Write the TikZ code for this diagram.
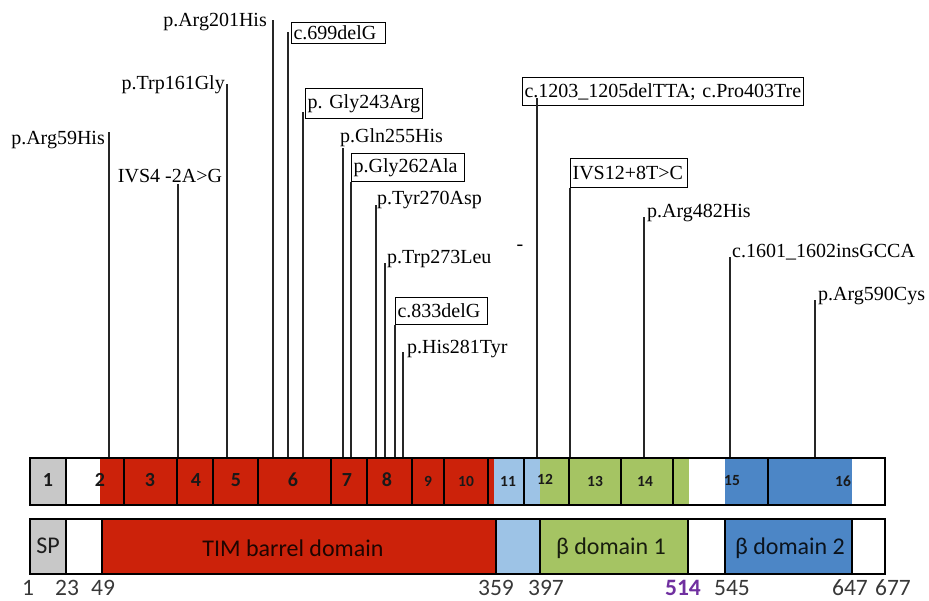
\documentclass[tikz,border=0pt]{standalone}
\usepackage{fontspec}
\setmainfont{Liberation Serif}
\newfontfamily\carlito{Carlito}
\definecolor{spgray}{HTML}{C8C8C8}
\definecolor{timred}{HTML}{CC220A}
\definecolor{linkblue}{HTML}{9DC3E6}
\definecolor{betagreen}{HTML}{A5C463}
\definecolor{betablue}{HTML}{4C86C6}
\definecolor{posgray}{HTML}{383838}
\definecolor{purple514}{HTML}{7030A0}
\begin{document}
\begin{tikzpicture}[x=1pt,y=-1pt,
  mut/.style={font=\fontsize{20}{23}\selectfont\frenchspacing, inner sep=0pt},
  tag/.style={mut, draw=black, line width=1.2pt, anchor=north west,
    inner xsep=2pt, inner ysep=0pt, align=left},
  stem/.style={line width=1.2pt, black!85},
  exnum/.style={font=\carlito\bfseries\fontsize{20}{22}\selectfont, inner sep=0pt, text=black!90},
  exnumsm/.style={font=\carlito\bfseries\fontsize{15.5}{18}\selectfont, inner sep=0pt, text=black!90},
  divider/.style={line width=2.6pt},
  frame/.style={draw=black, line width=2.4pt, anchor=north west, inner sep=0pt},
  domtxt/.style={font=\carlito\fontsize{24}{28}\selectfont, text opacity=0.85, inner sep=0pt},
  resnum/.style={font=\carlito\fontsize{23.5}{27}\selectfont, text=posgray, inner sep=0pt}
]
\useasboundingbox (0,0) rectangle (929,600);

% ---------- exon bar ----------
\fill[spgray]    (29,457)  rectangle (66,504);
\fill[timred]    (100,457) rectangle (494,504);
\fill[linkblue]  (494,457) rectangle (540,504);
\fill[betagreen] (540,457) rectangle (689,504);
\fill[betablue]  (725,457) rectangle (852,504);
\foreach \x in {66,124,177,213,258,331,367,412,444,488,524,569,621,673,768}
  \draw[divider] (\x,457) -- (\x,504);
\node[frame, minimum width=855pt, minimum height=47pt] (ex) at (29,457) {};

\node[exnum] (e1) at (48,480) {1};
\node[exnum] (e2) at (100,480) {2};
\node[exnum] (e3) at (150,480) {3};
\node[exnum] (e4) at (196,480) {4};
\node[exnum] (e5) at (236,480) {5};
\node[exnum] (e6) at (293,480) {6};
\node[exnum] (e7) at (347,480) {7};
\node[exnum] (e8) at (387,480) {8};
\node[exnumsm] (e9) at (428,481) {9};
\node[exnumsm] (e10) at (466,481) {10};
\node[exnumsm] (e11) at (508,481) {11};
\node[exnumsm] (e12) at (545,479) {12};
\node[exnumsm] (e13) at (595,481) {13};
\node[exnumsm] (e14) at (645,481) {14};
\node[exnumsm] (e15) at (732,481) {15};
\node[exnumsm] (e16) at (843,481) {16};

% ---------- domain bar ----------
\fill[spgray]    (29,518)  rectangle (66,573);
\fill[timred]    (102,518) rectangle (496,573);
\fill[linkblue]  (496,518) rectangle (540,573);
\fill[betagreen] (540,518) rectangle (688,573);
\fill[betablue]  (725,518) rectangle (852,573);
\foreach \x in {66,102,496,540,688,725,852}
  \draw[divider] (\x,518) -- (\x,573);
\node[frame, minimum width=855pt, minimum height=55pt] (dom) at (29,518) {};

\node[domtxt] (sp)  at (48,546)  {SP};
\node[domtxt] (tim) at (293,548) {TIM barrel domain};
\node[domtxt] (b1)  at (611,548) {β domain 1};
\node[domtxt] (b2)  at (790,548) {β domain 2};

% ---------- residue positions ----------
\node[resnum] (p1)   at (28,588)  {1};
\node[resnum] (p23)  at (67,588)  {23};
\node[resnum] (p49)  at (103,588) {49};
\node[resnum] (p359) at (496,588) {359};
\node[resnum] (p397) at (546,588) {397};
\node[resnum, text=purple514, font=\carlito\bfseries\fontsize{23.5}{27}\selectfont] (p514) at (683,588) {514};
\node[resnum] (p545) at (732,588) {545};
\node[resnum] (p647) at (850,588) {647};
\node[resnum] (p677) at (893,588) {677};

% ---------- mutation labels ----------
\node[mut, anchor=base east] (m1) at (105,144) {p.Arg59His};
\node[mut, anchor=base] (m2) at (170,182) {IVS4 -2A>G};
\node[mut, anchor=base east] (m3) at (225,89) {p.Trp161Gly};
\node[mut, anchor=base east] (m4) at (267,26) {p.Arg201His};
\node[tag, text width=90pt, minimum height=21pt] (m5) at (291,22) {c.699delG};
\node[tag, text width=113pt, minimum height=30pt] (m6) at (305,88) {p.\ Gly243Arg};
\node[mut, anchor=base west] (m7) at (340,142) {p.Gln255His};
\node[tag, text width=109pt, minimum height=28pt] (m8) at (351,153) {p.Gly262Ala};
\node[mut, anchor=base west] (m9) at (377,204) {p.Tyr270Asp};
\node[mut, anchor=base west] (m10) at (387,263) {p.Trp273Leu};
\node[tag, text width=88pt, minimum height=27pt] (m11) at (395,297) {c.833delG};
\node[mut, anchor=base west] (m12) at (407,353) {p.His281Tyr};
\node[mut] (dash) at (520,248) {-};
\node[tag, text width=277pt, minimum height=28pt] (m13) at (522,77) {c.1203\_1205delTTA;\ c.Pro403Tre};
\node[tag, text width=113pt, minimum height=29pt] (m14) at (570,158) {IVS12+8T>C};
\node[mut, anchor=base west] (m15) at (647,217) {p.Arg482His};
\node[mut, anchor=base west] (m16) at (732,257) {c.1601\_1602insGCCA};
\node[mut, anchor=base west] (m17) at (818,300) {p.Arg590Cys};

% ---------- stems down to the exon bar ----------
\coordinate (s1)  at (109,132);
\coordinate (s2)  at (178,184);
\coordinate (s3)  at (227,84);
\coordinate (s4)  at (273,20);
\coordinate (s5)  at (288,32);
\coordinate (s6)  at (303,112);
\coordinate (s7)  at (343,148);
\coordinate (s9)  at (376,205);
\coordinate (s10) at (385,263);
\coordinate (s12) at (403,352);
\coordinate (s13) at (537,98);
\coordinate (s15) at (644,217);
\coordinate (s16) at (730,257);
\coordinate (s17) at (815,300);
\foreach \s in {s1,s2,s3,s4,s5,s6,s7,s9,s10,s12,s13,s15,s16,s17}
  \draw[stem] (\s) -- (\s |- ex.north);
\foreach \m in {m8,m11,m14}
  \draw[stem] (\m.south west) -- (\m.south west |- ex.north);
\end{tikzpicture}
\end{document}
